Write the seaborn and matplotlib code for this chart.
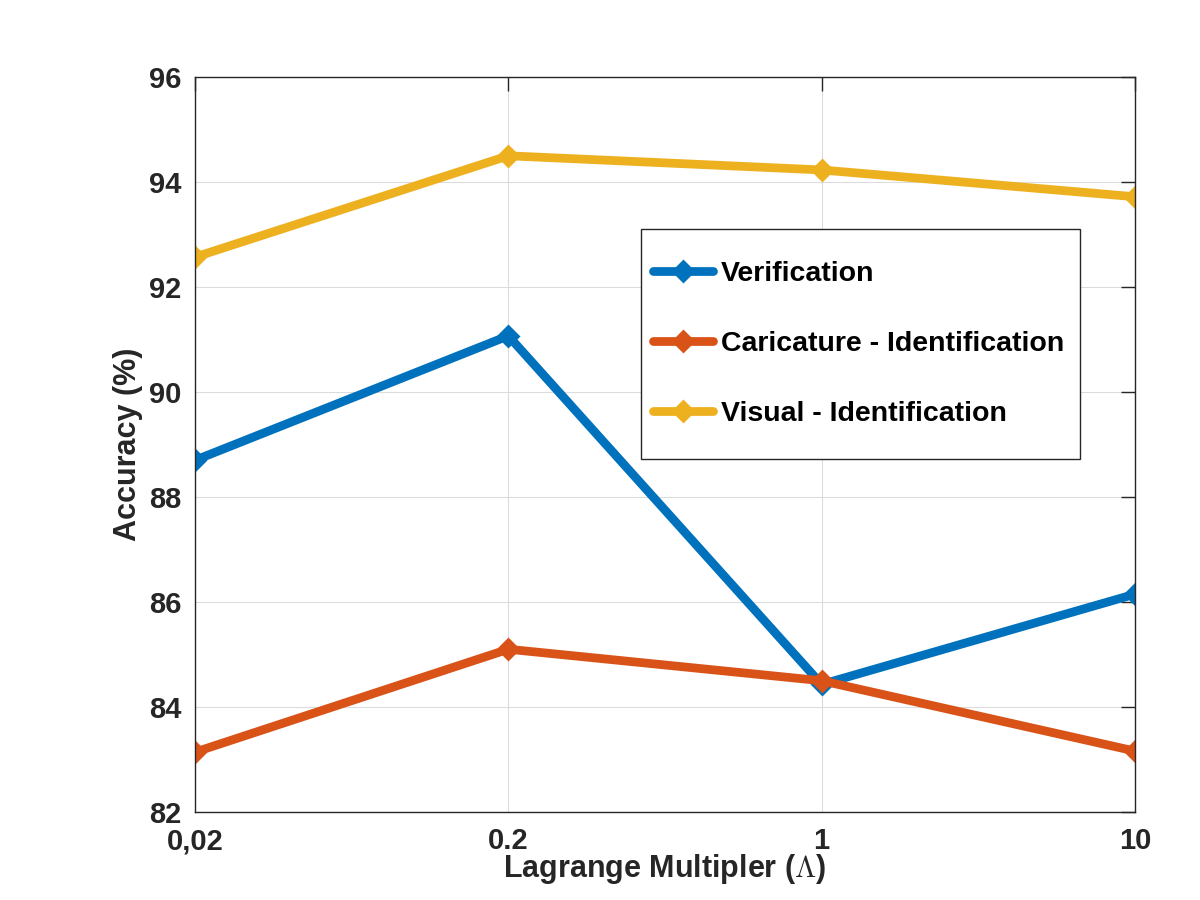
import matplotlib
matplotlib.use("Agg")
import matplotlib.pyplot as plt
from matplotlib.patches import Rectangle
import seaborn as sns
import pandas as pd

x_labels = ["0,02", "0.2", "1", "10"]
verification = [88.70, 91.07, 84.43, 86.15]
caricature_id = [83.14, 85.10, 84.50, 83.16]
visual_id = [92.57, 94.50, 94.23, 93.72]
series_names = ["Verification", "Caricature - Identification", "Visual - Identification"]
colors = ["#0072BD", "#D95319", "#EDB120"]

rows = []
for name, vals in zip(series_names, [verification, caricature_id, visual_id]):
    for i, v in enumerate(vals):
        rows.append({"pos": i, "acc": v, "series": name})
df = pd.DataFrame(rows)

sns.set_style("white")
plt.rcParams["font.family"] = ["Liberation Sans", "DejaVu Sans"]
plt.rcParams["font.weight"] = "bold"
plt.rcParams["mathtext.fontset"] = "cm"

fig = plt.figure(figsize=(12, 9), dpi=100)
ax = fig.add_axes([0.1625, 0.0978, 0.7833, 0.8166])

sns.lineplot(data=df, x="pos", y="acc", hue="series", hue_order=series_names,
             palette=colors, marker="D", markersize=10, linewidth=6.3,
             markeredgewidth=2, ax=ax, legend=True)
for line in ax.lines:
    line.set_markeredgecolor(line.get_color())

ax.set_xlim(0, 3)
ax.set_ylim(82, 96)
ax.set_xticks(range(len(x_labels)))
ax.set_xticklabels(x_labels)
ax.set_yticks(range(82, 97, 2))
ax.grid(True, color="#dcdcdc", linewidth=0.8)
ax.set_axisbelow(True)
for s in ax.spines.values():
    s.set_visible(True)
    s.set_color("#262626")
    s.set_linewidth(1.0)
ax.tick_params(direction="in", length=10, width=1, top=True, right=True,
               labelsize=21, colors="#262626")
ax.tick_params(axis="x", pad=11)
ax.tick_params(axis="y", pad=10)
for lab in ax.get_xticklabels() + ax.get_yticklabels():
    lab.set_fontweight("bold")

ax.set_xlabel("Lagrange Multipler ($\\Lambda$)", fontsize=22, fontweight="bold", color="#262626", labelpad=-2)
ax.set_ylabel("Accuracy (%)", fontsize=22, fontweight="bold", color="#262626", labelpad=4)

# legend frame
frame = Rectangle((0.4745, 0.480), 0.9415 - 0.4745, 0.793 - 0.480, transform=ax.transAxes,
                  facecolor="white", edgecolor="#262626", linewidth=1.0, zorder=4)
ax.add_patch(frame)

leg = ax.legend(loc="center left", bbox_to_anchor=(0.487, 0.637), frameon=False,
                prop={"size": 20.5, "weight": "bold"},
                handlelength=2.1, labelspacing=1.55, borderpad=0, borderaxespad=0,
                handletextpad=0.3, title=None)
leg.set_zorder(5)
for t in leg.get_texts():
    t.set_color("black")

fig.savefig("out.png", dpi=100, facecolor="white")
